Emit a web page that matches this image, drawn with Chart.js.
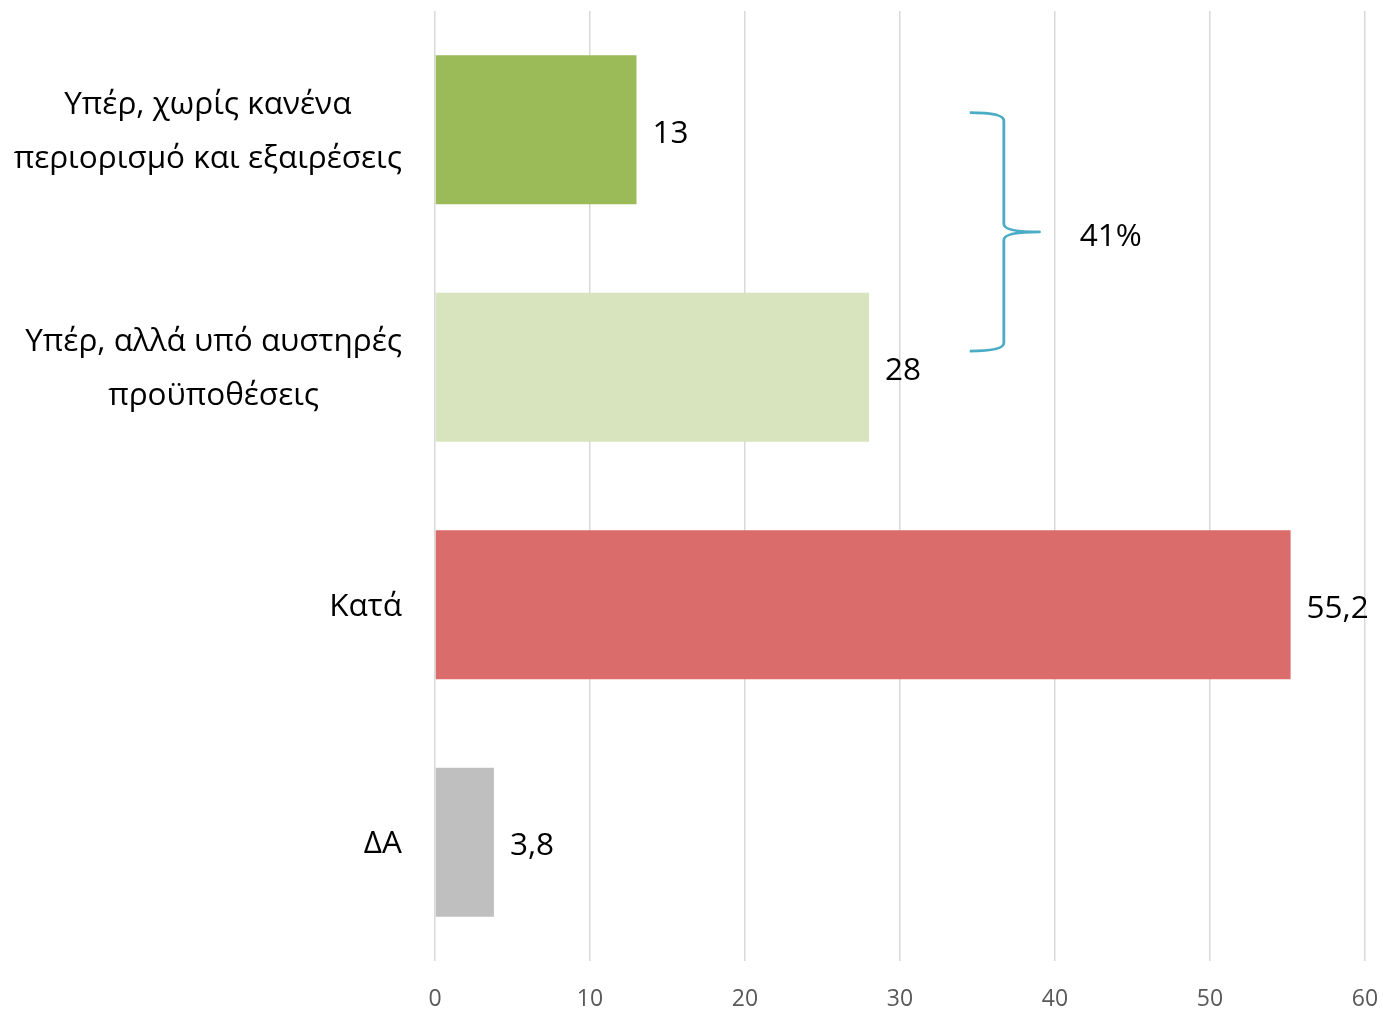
<!DOCTYPE html>
<html>
<head>
<meta charset="utf-8">
<script src="https://cdn.jsdelivr.net/npm/chart.js@4/dist/chart.umd.min.js"></script>
<style>
html,body{margin:0;padding:0;background:#fff;}
#wrap{width:1383px;height:1009px;position:relative;}
</style>
</head>
<body>
<div id="wrap"><canvas id="c" width="1383" height="1009"></canvas></div>
<script>
const categories = [
  ["Υπέρ, χωρίς κανένα", "περιορισμό και εξαιρέσεις"],
  ["Υπέρ, αλλά υπό αυστηρές", "προϋποθέσεις"],
  ["Κατά"],
  ["ΔΑ"]
];
const values = [13, 28, 55.2, 3.8];
const barColors = ["#9BBB59", "#D7E4BD", "#DA6C6B", "#BFBFBF"];
const xTicks = [0, 10, 20, 30, 40, 50, 60];
// brace annotation grouping the first two categories
const braceLabel = "41%";
const braceFrom = 0, braceTo = 1;
const braceValues = { arm: 34.5, stem: 36.7, tip: 39.0, text: 41.6 };

const labelFont = '31.5px "Open Sans", "Noto Sans", sans-serif';

const fmt = v => String(v).replace('.', ',');

const catLabelPlugin = {
  id: 'catLabels',
  afterDraw(chart) {
    const ctx = chart.ctx;
    const ys = chart.scales.y;
    ctx.save();
    ctx.font = labelFont;
    ctx.fillStyle = '#000';
    ctx.textBaseline = 'middle';
    const right = chart.chartArea.left - 33;
    const lh = 54;
    categories.forEach((lines, i) => {
      const cy = ys.getPixelForValue(i) + 2;
      const w = Math.max(...lines.map(l => ctx.measureText(l).width));
      const cx = right - w / 2;
      ctx.textAlign = 'center';
      lines.forEach((l, j) => {
        const y = cy + (j - (lines.length - 1) / 2) * lh;
        ctx.fillText(l, cx, y);
      });
    });
    ctx.restore();
  }
};

const valueLabelPlugin = {
  id: 'valueLabels',
  afterDatasetsDraw(chart) {
    const ctx = chart.ctx;
    const meta = chart.getDatasetMeta(0);
    ctx.save();
    ctx.font = labelFont;
    ctx.fillStyle = '#000';
    ctx.textBaseline = 'middle';
    ctx.textAlign = 'left';
    meta.data.forEach((bar, i) => {
      ctx.fillText(fmt(values[i]), bar.x + 16, bar.y + 4);
    });
    ctx.restore();
  }
};

const bracePlugin = {
  id: 'brace',
  afterDatasetsDraw(chart) {
    const ctx = chart.ctx;
    const xs = chart.scales.x, ys = chart.scales.y;
    const band = ys.getPixelForValue(1) - ys.getPixelForValue(0);
    const top = ys.getPixelForValue(braceFrom) - 0.072 * band;
    const bot = ys.getPixelForValue(braceTo) - 0.068 * band;
    const mid = (top + bot) / 2;
    const xa = xs.getPixelForValue(braceValues.arm);
    const xs2 = xs.getPixelForValue(braceValues.stem);
    const xt = xs.getPixelForValue(braceValues.tip);
    ctx.save();
    ctx.strokeStyle = '#4BACC6';
    ctx.lineWidth = 2.8;
    ctx.lineJoin = 'round';
    ctx.beginPath();
    ctx.moveTo(xa, top);
    ctx.quadraticCurveTo(xs2, top, xs2, top + 8);
    ctx.lineTo(xs2, mid - 8);
    ctx.quadraticCurveTo(xs2, mid, xt, mid);
    ctx.quadraticCurveTo(xs2, mid, xs2, mid + 8);
    ctx.lineTo(xs2, bot - 8);
    ctx.quadraticCurveTo(xs2, bot, xa, bot);
    ctx.stroke();
    ctx.font = labelFont;
    ctx.fillStyle = '#000';
    ctx.textBaseline = 'middle';
    ctx.textAlign = 'left';
    ctx.fillText(braceLabel, xs.getPixelForValue(braceValues.text), mid + 5);
    ctx.restore();
  }
};

new Chart(document.getElementById('c'), {
  type: 'bar',
  data: {
    labels: categories.map(c => c.join(' ')),
    datasets: [{
      data: values,
      backgroundColor: barColors,
      borderWidth: 0,
      categoryPercentage: 1,
      barPercentage: 0.627
    }]
  },
  options: {
    indexAxis: 'y',
    responsive: false,
    animation: false,
    devicePixelRatio: 1,
    layout: { padding: { top: 11, right: 18, bottom: 0, left: 0 } },
    plugins: { legend: { display: false }, tooltip: { enabled: false } },
    scales: {
      x: {
        min: 0, max: 60,
        afterBuildTicks: s => { s.ticks = xTicks.map(v => ({ value: v })); },
        afterFit: s => { s.height = 48; s.paddingRight = 0; s.paddingLeft = 0; },
        grid: { color: '#D9D9D9', lineWidth: 1.5, drawTicks: false },
        border: { display: false },
        ticks: {
          padding: 25,
          color: '#595959',
          font: { family: '"Liberation Sans Narrow", "Open Sans", sans-serif', size: 23 }
        }
      },
      y: {
        afterFit: s => { s.width = 435; },
        grid: { display: false },
        border: { display: false },
        ticks: { display: false }
      }
    }
  },
  plugins: [catLabelPlugin, valueLabelPlugin, bracePlugin]
});
</script>
</body>
</html>
